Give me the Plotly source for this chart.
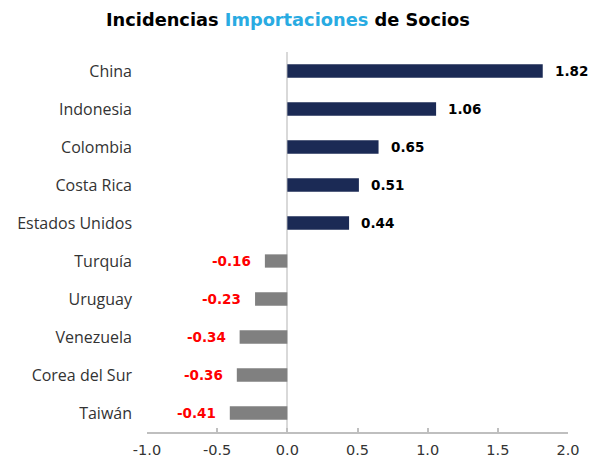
import plotly.graph_objects as go

# Partner incidences on imports (percentage points)
countries = ["China", "Indonesia", "Colombia", "Costa Rica", "Estados Unidos",
             "Turquía", "Uruguay", "Venezuela", "Corea del Sur", "Taiwán"]
values = [1.82, 1.06, 0.65, 0.51, 0.44, -0.16, -0.23, -0.34, -0.36, -0.41]
x_ticks = [-1.0, -0.5, 0.0, 0.5, 1.0, 1.5, 2.0]

POS_COLOR = "#1b2a55"
NEG_COLOR = "#808080"
LABEL_FONT = "Open Sans"
NUM_FONT = "DejaVu Sans"

bar_colors = [POS_COLOR if v >= 0 else NEG_COLOR for v in values]

fig = go.Figure(go.Bar(
    x=values, y=countries, orientation="h",
    marker=dict(color=bar_colors, line=dict(width=0)),
    hoverinfo="skip",
))

annotations = []
for c, v in zip(countries, values):
    annotations.append(dict(
        x=v, y=c, xref="x", yref="y", showarrow=False,
        text=f"<b>{v:.2f}</b>",
        xanchor="left" if v >= 0 else "right",
        xshift=10 if v >= 0 else -12,
        font=dict(family=NUM_FONT, size=13.5, color="#000000" if v >= 0 else "#ff0000"),
    ))

annotations.append(dict(
    x=0.5, y=1.0, xref="paper", yref="paper", yanchor="bottom", xanchor="center",
    yshift=20, xshift=-70, showarrow=False,
    text=("<b>Incidencias <span style='color:#29abe2'>Importaciones</span> de Socios</b>"),
    font=dict(family=NUM_FONT, size=17.8, color="#000000"),
))

fig.update_layout(
    width=596, height=457,
    margin=dict(l=147, r=28, t=52, b=25),
    paper_bgcolor="white", plot_bgcolor="white",
    bargap=0.65,
    showlegend=False,
    font=dict(family=LABEL_FONT, size=16, color="#333333"),
    annotations=annotations,
)

fig.update_yaxes(
    autorange="reversed", showgrid=False, showline=False, ticks="",
    automargin=False,
    ticklabelstandoff=14, tickfont=dict(family=LABEL_FONT, size=16, color="#333333"),
)
fig.update_xaxes(
    range=[-1.0, 2.0], tickvals=x_ticks, ticktext=[f"{t:.1f}" for t in x_ticks],
    automargin=False,
    showgrid=False, zeroline=True, zerolinecolor="#d9d9d9", zerolinewidth=2,
    showline=True, linecolor="#bfbfbf", linewidth=1.5,
    ticks="inside", ticklen=4, tickcolor="#bfbfbf", tickwidth=1.5,
    ticklabelstandoff=4,
    tickfont=dict(family=NUM_FONT, size=14.5, color="#333333"),
)

fig.write_html("out.html")
